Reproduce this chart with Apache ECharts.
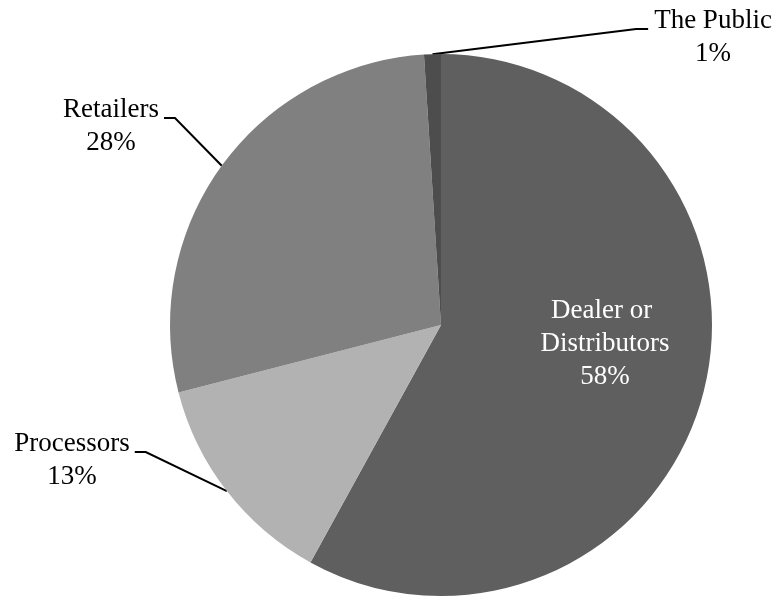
<!DOCTYPE html>
<html>
<head>
<meta charset="utf-8">
<script src="https://cdn.jsdelivr.net/npm/echarts@6/dist/echarts.min.js"></script>
<style>
  html, body { margin: 0; padding: 0; background: #ffffff; }
  #chart { width: 777px; height: 605px; }
</style>
</head>
<body>
<div id="chart"></div>
<script>
// Share of sales by buyer type
const categories = ['Dealer or Distributors', 'Processors', 'Retailers', 'The Public'];
const shares = [58, 13, 28, 1];
const sliceColors = ['#5f5f5f', '#b2b2b2', '#808080', '#4d4d4d'];

// Label block centres and the side of the block that the leader line meets
const labelPlacement = [
  { x: 605, y: 344, side: null },
  { x: 72,  y: 460, side: 'right' },
  { x: 111, y: 126, side: 'right' },
  { x: 713, y: 37,  side: 'left' }
];

const chart = echarts.init(document.getElementById('chart'), null, { renderer: 'canvas' });

const serif = "'Liberation Serif', 'Times New Roman', serif";

chart.setOption({
  backgroundColor: '#ffffff',
  animation: false,
  series: [{
    type: 'pie',
    center: [441, 325],
    radius: 271,
    startAngle: 90,
    clockwise: true,
    avoidLabelOverlap: false,
    silent: true,
    itemStyle: { borderWidth: 0 },
    label: {
      show: true,
      position: 'outside',
      formatter: '{b}\n{d}%',
      fontFamily: serif,
      fontSize: 27,
      lineHeight: 33,
      color: '#000000',
      align: 'center'
    },
    labelLine: {
      show: true,
      length: 20,
      length2: 10,
      lineStyle: { color: '#000000', width: 2 }
    },
    labelLayout: function (params) {
      const p = labelPlacement[params.dataIndex];
      const out = { x: p.x, y: p.y, align: 'center', verticalAlign: 'middle' };
      if (p.side && params.labelLinePoints) {
        const w = params.labelRect.width;
        const start = params.labelLinePoints[0];
        const ly = p.y - 8;
        const endX = p.side === 'right' ? p.x + w / 2 + 5 : p.x - w / 2 - 6;
        const elbowX = p.side === 'right' ? endX + 11 : endX - 12;
        out.labelLinePoints = [start, [elbowX, ly], [endX, ly]];
      }
      return out;
    },
    data: categories.map(function (name, i) {
      const item = { name: name, value: shares[i], itemStyle: { color: sliceColors[i] } };
      if (i === 0) {
        item.label = { position: 'inside', color: '#ffffff', width: 150, overflow: 'break' };
        item.labelLine = { show: false };
      }
      return item;
    })
  }]
});
</script>
</body>
</html>
